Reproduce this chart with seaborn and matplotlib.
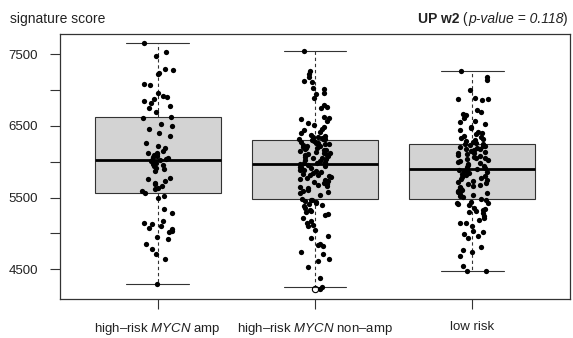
import numpy as np
import pandas as pd
import seaborn as sns
import matplotlib.pyplot as plt

# signature scores, one list per risk group
mycn_amp = [7653, 7536, 7476, 7290, 7276, 7244, 7220, 7081, 7067, 6955, 6918, 6904, 6872, 6848,
            6825, 6779, 6755, 6695, 6625, 6616,
            6523, 6500, 6462, 6406, 6360, 6267, 6221, 6197, 6151, 6128, 6115, 6104, 6090, 6075,
            6067, 6050, 6035, 6030, 6025, 6011, 5988, 5965, 5951, 5942, 5918, 5895, 5872, 5779,
            5756, 5732, 5709, 5695, 5662, 5639, 5616, 5593, 5570,
            5523, 5500, 5337, 5290, 5174, 5151, 5128, 5105, 5081, 5058, 5035, 5012, 4942, 4919,
            4849, 4779, 4709, 4640, 4291]

mycn_nonamp = [7540, 7267, 7221, 7188, 7128, 7109, 7035, 7016, 6956, 6942, 6886, 6793, 6770, 6747,
               6630, 6607, 6598, 6570, 6537, 6514, 6491, 6455, 6440, 6412, 6395, 6375, 6365, 6351,
               6340, 6328, 6320, 6314,
               6312, 6308, 6284, 6278, 6266, 6259, 6248, 6241, 6230, 6222, 6213, 6204, 6197, 6186,
               6178, 6169, 6157, 6148, 6139, 6127, 6118, 6106, 6097, 6088, 6076, 6068, 6055, 6047,
               6036, 6024, 6013, 6001, 5988, 5976,
               5967,
               5956, 5944, 5933, 5921, 5912, 5899, 5888, 5879, 5866, 5857, 5846, 5833, 5821, 5808,
               5797, 5786, 5772, 5758, 5744, 5729, 5716, 5703, 5688, 5672, 5659, 5644, 5628, 5611,
               5596, 5579, 5561, 5542, 5480, 5470,
               5462, 5445, 5435, 5421, 5407, 5398, 5375, 5351, 5328, 5305, 5296, 5268, 5258, 5212,
               5166, 5142, 5119, 5096, 5049, 4956, 4933, 4849, 4831, 4817, 4738, 4710, 4645, 4617,
               4524, 4375, 4250, 4225]

low_risk = [7267, 7188, 7142, 7002, 6886, 6877, 6872, 6863, 6723, 6700, 6663, 6653, 6607, 6570,
            6551, 6523, 6491, 6467, 6444, 6421, 6400, 6380, 6365, 6351, 6337, 6319, 6300, 6291,
            6272, 6258,
            6254, 6245, 6236, 6224, 6215, 6203, 6192, 6184, 6171, 6160, 6149, 6138, 6126, 6115,
            6104, 6092, 6081, 6069, 6058, 6047, 6036, 6024, 6012, 5998, 5986, 5972, 5958, 5944,
            5929, 5915,
            5903,
            5891, 5880, 5866, 5852, 5841, 5829, 5815, 5802, 5788, 5776, 5762, 5748, 5735, 5721,
            5708, 5694, 5680, 5667, 5652, 5638, 5624, 5609, 5596, 5581, 5566, 5551, 5535, 5519,
            5501, 5482,
            5460, 5444, 5430, 5421, 5410, 5398, 5360, 5337, 5328, 5305, 5291, 5280, 5235, 5212,
            5188, 5151, 5142, 5105, 5026, 5012, 4993, 4965, 4933, 4807, 4761, 4733, 4686, 4537,
            4470, 4468]

groups = ["amp", "nonamp", "low"]
group_labels = ["high\u2013risk $\\mathit{MYCN}$ amp",
                "high\u2013risk $\\mathit{MYCN}$ non\u2013amp",
                "low risk"]
ytick_values = [4500, 5000, 5500, 6000, 6500, 7000, 7500]
ytick_labels = ["4500", "", "5500", "", "6500", "", "7500"]

df = pd.DataFrame({
    "group": ["amp"] * len(mycn_amp) + ["nonamp"] * len(mycn_nonamp) + ["low"] * len(low_risk),
    "score": mycn_amp + mycn_nonamp + low_risk,
})

# feel and look
sns.set_style("ticks")
plt.rcParams["font.family"] = ["Liberation Sans", "DejaVu Sans"]
plt.rcParams["mathtext.fontset"] = "custom"
plt.rcParams["mathtext.rm"] = "Liberation Sans"
plt.rcParams["mathtext.it"] = "Liberation Sans:italic"
plt.rcParams["mathtext.bf"] = "Liberation Sans:bold"

fig = plt.figure(figsize=(5.73, 3.38), dpi=100)
ax = fig.add_axes([60 / 573, 1 - 298.5 / 338, 510 / 573, 265 / 338])

line_col = "#333333"
sns.boxplot(data=df, x="group", y="score", order=groups, ax=ax,
            color="lightgray", saturation=1, width=0.8, whis=1.5,
            linecolor=line_col, linewidth=0.8,
            medianprops={"linewidth": 2.0, "color": "black"},
            whiskerprops={"linestyle": (0, (3, 2.5))},
            flierprops={"marker": "o", "markerfacecolor": "none", "markeredgecolor": "black",
                        "markersize": 4.5, "markeredgewidth": 0.8})

np.random.seed(7)
sns.stripplot(data=df, x="group", y="score", order=groups, ax=ax,
              color="black", size=3.8, jitter=0.1, linewidth=0, zorder=3)

ax.set_xlim(-0.62, 2.62)
ax.set_ylim(4090, 7790)
ax.set_yticks(ytick_values)
ax.set_yticklabels(ytick_labels)
ax.set_xticks([0, 1, 2])
ax.set_xticklabels(group_labels)
ax.set_xlabel("")
ax.set_ylabel("")
ax.tick_params(axis="both", direction="out", length=7, width=0.8, color=line_col,
               labelsize=9.5, labelcolor="#222222", pad=9)

for side in ["top", "right", "bottom", "left"]:
    ax.spines[side].set_visible(True)
    ax.spines[side].set_color(line_col)
    ax.spines[side].set_linewidth(0.9)

# titles: left label and a right-aligned title built from pieces (bold / italic)
title_y = 1 - 26 / 338
txt = dict(fontsize=10, color="#222222", va="bottom")
fig.text(10 / 573, title_y, "signature score", ha="left", **txt)
t_close = fig.text(568 / 573, title_y, ")", ha="right", **txt)
t_it = ax.annotate("p-value = 0.118", xy=(0, 0), xycoords=t_close, ha="right",
                   style="italic", annotation_clip=False, **txt)
t_open = ax.annotate(" (", xy=(0, 0), xycoords=t_it, ha="right", annotation_clip=False, **txt)
ax.annotate("UP w2", xy=(0, 0), xycoords=t_open, ha="right", weight="bold",
            annotation_clip=False, **txt)

fig.savefig("out.png", dpi=100)
